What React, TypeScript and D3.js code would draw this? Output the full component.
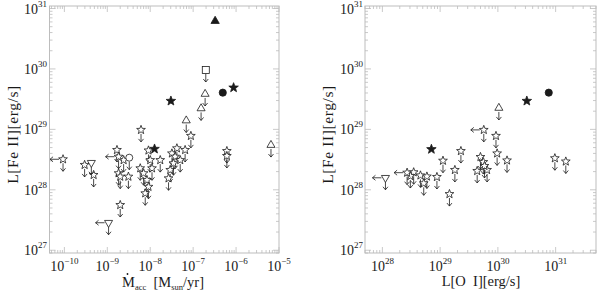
import React from "react";
import * as d3 from "d3";

// ---------- LEFT PANEL DATA: [Mdot_acc (Msun/yr), L[Fe II] (erg/s)] ----------
const leftStarsUL: [number, number][] = [
  [2.96e-10, 2.58e28], [4.8e-10, 1.76e28], [1.68e-9, 4.56e28], [2.4e-9, 3.1e28],
  [1.83e-9, 1.88e28], [2.0e-9, 1.65e28], [3.1e-9, 1.65e28], [2.0e-9, 5.6e27],
  [6.1e-9, 9.8e28], [9.1e-9, 4.48e28], [1.0e-8, 3.1e28], [1.71e-8, 3.1e28],
  [5.85e-9, 2.27e28], [7.0e-9, 1.88e28], [8.4e-9, 1.45e28], [9.1e-9, 1.12e28],
  [7.65e-9, 8.75e27], [1.1e-8, 2.27e28], [2.92e-8, 2.13e28], [2.67e-8, 1.55e28],
  [4.18e-8, 4.86e28], [3.2e-8, 4.0e28], [6.5e-8, 4.56e28], [3.8e-8, 3.53e28],
  [5.0e-8, 3.1e28], [3.48e-8, 2.75e28], [8.85e-8, 7.8e28], [6.1e-7, 4.38e28],
  [6.1e-7, 3.63e28],
];
const leftStarsULLeft: [number, number][] = [[9.3e-11, 3.2e28], [1.83e-9, 3.53e28]];
const leftTriUL: [number, number][] = [[1.9e-7, 3.85e29], [1.53e-7, 2.22e29], [6.9e-8, 1.4e29], [6.5e-6, 5.5e28]];
const leftInvTriUL: [number, number][] = [[4.25e-10, 2.8e28]];
const leftInvTriULLeft: [number, number][] = [[1.07e-9, 2.85e27]];
const leftSquareUL: [number, number][] = [[1.97e-7, 9.6e29]];
const leftCircleUL: [number, number][] = [[3.25e-9, 3.4e28]];
const leftFilledStars: [number, number][] = [[8.75e-7, 4.9e29], [3.03e-8, 2.95e29], [1.26e-8, 4.74e28]];
const leftFilledCircles: [number, number][] = [[4.9e-7, 4.05e29]];
const leftFilledTriangles: [number, number][] = [[3.25e-7, 6.2e30]];

// ---------- RIGHT PANEL DATA: [L[O I] (erg/s), L[Fe II] (erg/s)] ----------
const rightStarsUL: [number, number][] = [
  [9.27e29, 7.8e28], [2.29e29, 4.38e28], [1.12e29, 3.03e28], [1.8e29, 2.13e28],
  [4.99e29, 3.49e28], [5.6e29, 2.88e28], [4.38e29, 2.05e28], [6.5e29, 2.13e28],
  [5.86e29, 2.48e28], [9.7e29, 4.0e28], [1.44e30, 3.06e28], [9.7e30, 3.33e28],
  [1.5e31, 2.94e28], [3.48e28, 1.95e28], [3.05e28, 1.69e28], [4.56e28, 1.73e28],
  [5.9e28, 1.66e28], [5.2e28, 1.28e28], [8.8e28, 1.63e28], [1.45e29, 8.5e27],
];
const rightStarsULLeft: [number, number][] = [[5.7e29, 9.8e28], [2.68e28, 1.92e28]];
const rightTriUL: [number, number][] = [[1.04e30, 2.26e29]];
const rightInvTriULLeft: [number, number][] = [[1.13e28, 1.58e28]];
const rightFilledStars: [number, number][] = [[3.17e30, 2.95e29], [7.06e28, 4.69e28]];
const rightFilledCircles: [number, number][] = [[7.6e30, 4.05e29]];

// ---------- AXES ----------
const yDomain: [number, number] = [9e26, 1.1e31];
const yTickExps = [27, 28, 29, 30, 31];
const leftXDomain: [number, number] = [4.5e-11, 1e-5];
const leftXTickExps = [-10, -9, -8, -7, -6, -5];
const rightXDomain: [number, number] = [5e27, 5e31];
const rightXTickExps = [28, 29, 30, 31];

const FONT = "'Liberation Serif', 'DejaVu Serif', serif";
const FRAME = "#bdbdbd";
const INK = "#1a1a1a";
const TOP = 6;
const BOTTOM = 253;

function starPath(r: number): string {
  const pts: string[] = [];
  for (let i = 0; i < 10; i++) {
    const a = -Math.PI / 2 + (i * Math.PI) / 5;
    const rr = i % 2 === 0 ? r : r * 0.42;
    pts.push(`${(rr * Math.cos(a)).toFixed(2)},${(rr * Math.sin(a)).toFixed(2)}`);
  }
  return "M" + pts.join("L") + "Z";
}

function downArrow(x: number, y: number, start = 4, len = 12) {
  return (
    <g stroke={INK} strokeWidth={0.8} fill="none">
      <line x1={x} y1={y + start} x2={x} y2={y + len} />
      <polyline points={`${x - 2.5},${y + len - 3} ${x},${y + len} ${x + 2.5},${y + len - 3}`} />
    </g>
  );
}
function leftArrow(x: number, y: number, start = 4, len = 13) {
  return (
    <g stroke={INK} strokeWidth={0.8} fill="none">
      <line x1={x - start} y1={y} x2={x - len} y2={y} />
      <polyline points={`${x - len + 3},${y - 2.5} ${x - len},${y} ${x - len + 3},${y + 2.5}`} />
    </g>
  );
}

type Kind = "star" | "tri" | "invtri" | "square" | "circle";
function Marker({ kind, x, y, filled }: { kind: Kind; x: number; y: number; filled?: boolean }) {
  const fill = filled ? INK : "white";
  const sw = 0.8;
  if (kind === "star")
    return <path d={starPath(filled ? 5 : 4.6)} transform={`translate(${x},${y})`} fill={fill} stroke={INK} strokeWidth={sw} />;
  if (kind === "tri")
    return <path d={d3.symbol(d3.symbolTriangle, filled ? 30 : 28)() || ""} transform={`translate(${x},${y})`} fill={fill} stroke={INK} strokeWidth={sw} />;
  if (kind === "invtri")
    return <path d={d3.symbol(d3.symbolTriangle, 28)() || ""} transform={`translate(${x},${y}) rotate(180)`} fill={fill} stroke={INK} strokeWidth={sw} />;
  if (kind === "square") return <rect x={x - 3.5} y={y - 3.5} width={7} height={7} fill={fill} stroke={INK} strokeWidth={sw} />;
  return <circle cx={x} cy={y} r={filled ? 3.6 : 3.5} fill={fill} stroke={INK} strokeWidth={sw} />;
}

type Series = { data: [number, number][]; kind: Kind; filled?: boolean; down?: boolean; left?: boolean };

function Panel({
  x0, x1, xDomain, xTickExps, series, yTitleX, xTitle, labelRight,
}: {
  x0: number; x1: number; xDomain: [number, number]; xTickExps: number[]; series: Series[];
  yTitleX: number; xTitle: React.ReactNode; labelRight: number;
}) {
  const x = d3.scaleLog().domain(xDomain).range([x0, x1]);
  const y = d3.scaleLog().domain(yDomain).range([BOTTOM, TOP]);

  const minor = (dom: [number, number]) => {
    const out: { v: number; major: boolean }[] = [];
    const lo = Math.floor(Math.log10(dom[0]));
    const hi = Math.ceil(Math.log10(dom[1]));
    for (let e = lo; e <= hi; e++) {
      for (let m = 1; m <= 9; m++) {
        const v = m * Math.pow(10, e);
        if (v >= dom[0] * 0.9999 && v <= dom[1] * 1.0001) out.push({ v, major: m === 1 });
      }
    }
    return out;
  };
  const xt = minor(xDomain);
  const yt = minor(yDomain);
  const ML = 6, ml = 3;

  return (
    <g>
      <rect x={x0} y={TOP} width={x1 - x0} height={BOTTOM - TOP} fill="none" stroke={FRAME} strokeWidth={1} />
      <g stroke={FRAME} strokeWidth={0.8}>
        {xt.map((t, i) => {
          const px = x(t.v);
          const L = t.major ? ML : ml;
          return (
            <g key={"x" + i}>
              <line x1={px} x2={px} y1={BOTTOM} y2={BOTTOM - L} />
              <line x1={px} x2={px} y1={TOP} y2={TOP + L} />
            </g>
          );
        })}
        {yt.map((t, i) => {
          const py = y(t.v);
          const L = t.major ? ML : ml;
          return (
            <g key={"y" + i}>
              <line x1={x0} x2={x0 + L} y1={py} y2={py} />
              <line x1={x1} x2={x1 - L} y1={py} y2={py} />
            </g>
          );
        })}
      </g>
      <g fontFamily={FONT} fill={INK}>
        {xTickExps.map((e) => (
          <text key={"xl" + e} x={x(Math.pow(10, e))} y={271} textAnchor="middle" fontSize={14}>
            10<tspan dy={-7} fontSize={9}>{e < 0 ? "\u2212" + -e : e}</tspan>
          </text>
        ))}
        {yTickExps.map((e) => (
          <text key={"yl" + e} x={labelRight} y={y(Math.pow(10, e)) + 5} textAnchor="end" fontSize={14}>
            10<tspan dy={-7} fontSize={9}>{e}</tspan>
          </text>
        ))}
        <text transform={`translate(${yTitleX},${(TOP + BOTTOM) / 2 + 5}) rotate(-90)`} textAnchor="middle" fontSize={15.5} letterSpacing={0.6}>
          L[Fe II][erg/s]
        </text>
        {xTitle}
      </g>
      {series.map((s, si) => (
        <g key={"s" + si}>
          {s.data.map((d, i) => {
            const px = x(d[0]);
            const py = y(d[1]);
            return (
              <g key={i}>
                {s.down && downArrow(px, py)}
                {s.left && leftArrow(px, py)}
                <Marker kind={s.kind} x={px} y={py} filled={s.filled} />
              </g>
            );
          })}
        </g>
      ))}
    </g>
  );
}

export default function App() {
  const leftSeries: Series[] = [
    { data: leftStarsUL, kind: "star", down: true },
    { data: leftStarsULLeft, kind: "star", down: true, left: true },
    { data: leftTriUL, kind: "tri", down: true },
    { data: leftInvTriUL, kind: "invtri", down: true },
    { data: leftInvTriULLeft, kind: "invtri", down: true, left: true },
    { data: leftSquareUL, kind: "square", down: true },
    { data: leftCircleUL, kind: "circle", down: true },
    { data: leftFilledStars, kind: "star", filled: true },
    { data: leftFilledCircles, kind: "circle", filled: true },
    { data: leftFilledTriangles, kind: "tri", filled: true },
  ];
  const rightSeries: Series[] = [
    { data: rightStarsUL, kind: "star", down: true },
    { data: rightStarsULLeft, kind: "star", down: true, left: true },
    { data: rightTriUL, kind: "tri", down: true },
    { data: rightInvTriULLeft, kind: "invtri", down: true, left: true },
    { data: rightFilledStars, kind: "star", filled: true },
    { data: rightFilledCircles, kind: "circle", filled: true },
  ];

  const leftXTitle = (
    <g>
      <text x={122} y={286.5} fontSize={14.5}>
        M<tspan dy={3} fontSize={8.5}>acc</tspan>
        <tspan dy={-3} xmlSpace="preserve">{" "} [M</tspan>
        <tspan dy={3} fontSize={8.5}>sun</tspan>
        <tspan dy={-3}>/yr]</tspan>
      </text>
      <circle cx={127.5} cy={274} r={0.9} fill={INK} />
    </g>
  );
  const rightXTitle = (
    <text x={481} y={286} textAnchor="middle" fontSize={14.5} xmlSpace="preserve">
      L[O  I][erg/s]
    </text>
  );

  return (
    <svg width={600} height={290} style={{ position: "absolute", left: 0, top: 0, background: "white" }}>
      <rect width={600} height={290} fill="white" />
      <Panel x0={49.5} x1={279} xDomain={leftXDomain} xTickExps={leftXTickExps} series={leftSeries}
        yTitleX={18} xTitle={leftXTitle} labelRight={47} />
      <Panel x0={365} x1={596} xDomain={rightXDomain} xTickExps={rightXTickExps} series={rightSeries}
        yTitleX={333} xTitle={rightXTitle} labelRight={363} />
    </svg>
  );
}
